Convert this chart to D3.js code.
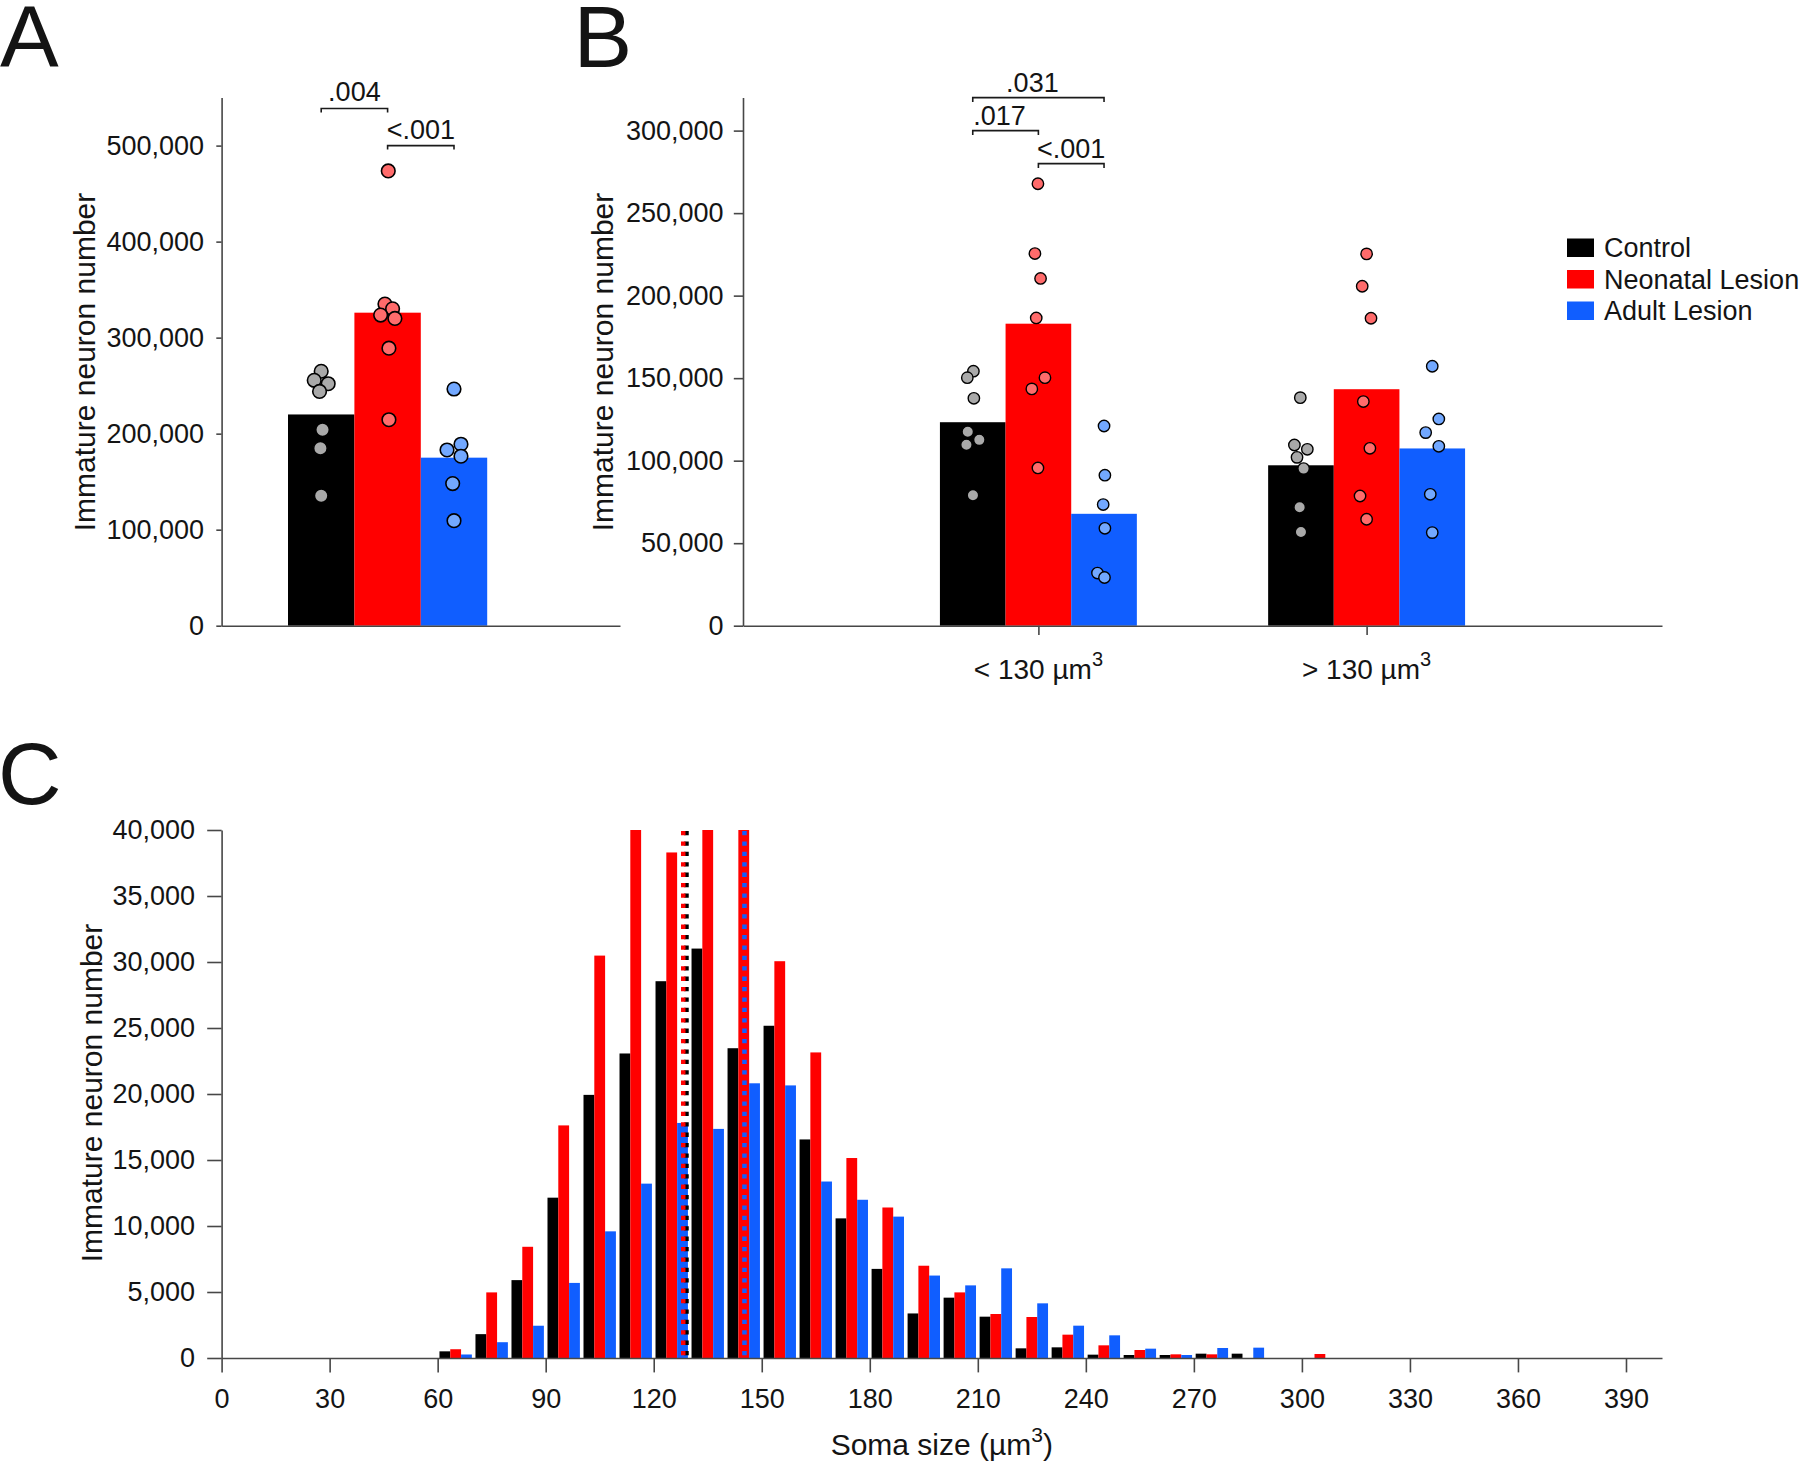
<!DOCTYPE html>
<html><head><meta charset="utf-8">
<script src="https://cdn.jsdelivr.net/npm/d3@7"></script>
<style>
body{margin:0;background:#fff}
svg{display:block}
text{font-family:"Liberation Sans",Arial,Helvetica,sans-serif;fill:#141414}
</style>
</head><body>
<svg id="chart" width="1800" height="1463"></svg>
<script>
// ---------------- DATA ----------------
const groups = ["Control", "Neonatal Lesion", "Adult Lesion"];
const barColors = ["#000000", "#FF0000", "#105EFF"];
const pointColors = ["#A9A9A9", "#FF6B6B", "#72A8FF"];

// Panel A: total immature neurons
const totalMeans = [220000, 326000, 175000];
const totalControl = [265000, 255600, 252000, 244000, 204000, 184700, 135400];
const totalNeonatal = [473600, 335000, 330000, 323500, 320000, 289000, 214500];
const totalAdult = [246500, 189000, 183000, 176500, 148000, 109400];
const totalControlJitter = [0, -0.105, 0.105, -0.025, 0.02, -0.012, 0];
const totalNeonatalJitter = [0.01, -0.04, 0.075, -0.105, 0.11, 0.02, 0.02];
const totalAdultJitter = [0, 0.105, -0.105, 0.105, -0.02, 0];
const totalTicks = [0, 100000, 200000, 300000, 400000, 500000];
const totalSig = [
  {from: 0, to: 1, level: 538700, label: ".004"},
  {from: 1, to: 2, level: 500000, label: "<.001"}
];

// Panel B: by soma size class
const sizeClasses = ["< 130 µm", "> 130 µm"];
const sizeSup = "3";
const smallMeans = [123300, 183000, 67800];
const largeMeans = [97200, 143300, 107400];
const smallControl = [154200, 150300, 137800, 117500, 112600, 109600, 79000];
const smallNeonatal = [267800, 225500, 210400, 186500, 150300, 143500, 95600];
const smallAdult = [121000, 91200, 73400, 59000, 31900, 29200];
const largeControl = [138200, 109500, 106900, 102000, 95200, 71800, 56800];
const largeNeonatal = [225300, 205700, 186300, 135800, 107500, 78600, 64500];
const largeAdult = [157200, 125300, 117000, 108700, 79600, 56400];
const smallControlJitter = [0.01, -0.083, 0.017, -0.076, 0.10, -0.096, 0.003];
const smallNeonatalJitter = [-0.007, -0.053, 0.033, -0.033, 0.10, -0.10, -0.007];
const smallAdultJitter = [0, 0.013, -0.013, 0.013, -0.10, 0.007];
const largeControlJitter = [-0.01, -0.10, 0.097, -0.06, 0.04, -0.02, 0];
const largeNeonatalJitter = [0, -0.067, 0.067, -0.05, 0.05, -0.10, 0];
const largeAdultJitter = [0, 0.10, -0.10, 0.10, -0.03, 0];
const sizeTicks = [0, 50000, 100000, 150000, 200000, 250000, 300000];
const sizeSig = [
  {from: 0, to: 2, level: 320000, label: ".031"},
  {from: 0, to: 1, level: 300000, label: ".017"},
  {from: 1, to: 2, level: 280000, label: "<.001"}
];

// Panel C: soma size histogram (bins of 10 µm³, starting values)
const binStarts = [60, 70, 80, 90, 100, 110, 120, 130, 140, 150, 160, 170, 180, 190, 200, 210, 220, 230, 240, 250, 260, 270, 280, 290, 300];
const histControl = [505, 1807, 5900, 12146, 19934, 23070, 28545, 31017, 23468, 25170, 16558, 10578, 6751, 3375, 4571, 3131, 732, 808, 253, 227, 227, 328, 328, 0, 0];
const histNeonatal = [664, 4970, 8425, 17621, 30485, 41000, 38299, 42000, 40600, 30060, 23150, 15150, 11402, 6990, 4970, 3333, 3106, 1768, 960, 606, 278, 278, 0, 0, 303];
const histAdult = [266, 1196, 2445, 5688, 9595, 13209, 17807, 17356, 20811, 20651, 13369, 11987, 10711, 6246, 5502, 6792, 4141, 2449, 1717, 707, 227, 758, 783, 0, 0];
const refLines = [129.1, 128.2, 145.2]; // Control, Neonatal, Adult
const histXTicks = [0, 30, 60, 90, 120, 150, 180, 210, 240, 270, 300, 330, 360, 390];
const histYTicks = [0, 5000, 10000, 15000, 20000, 25000, 30000, 35000, 40000];

// ---------------- DRAWING ----------------
const svg = d3.select("#chart");
const fmt = d3.format(",");
const AXIS = "#474747";

function styleAxis(g, fs) {
  g.selectAll("path.domain").attr("stroke", AXIS).attr("stroke-width", 1.6);
  g.selectAll(".tick line").attr("stroke", AXIS).attr("stroke-width", 1.6);
  g.selectAll(".tick text").attr("fill", "#141414").style("font-size", fs + "px")
    .style("font-family", '"Liberation Sans",Arial,sans-serif');
}

function yTitle(x, y, fs) {
  svg.append("text").attr("transform", `translate(${x},${y}) rotate(-90)`)
    .attr("text-anchor", "middle").style("font-size", fs + "px")
    .text("Immature neuron number");
}

function panelLetter(t, x, y) {
  svg.append("text").attr("x", x).attr("y", y).style("font-size", "88px").text(t);
}

function drawSig(list, xPos, yScale, tickLen, gap) {
  list.forEach(s => {
    const x1 = xPos(s.from), x2 = xPos(s.to), y = yScale(s.level);
    svg.append("path")
      .attr("d", `M${x1},${y + tickLen}V${y}H${x2}V${y + tickLen}`)
      .attr("fill", "none").attr("stroke", "#1a1a1a").attr("stroke-width", 1.6);
    // labels starting with "." render visually right-heavy; nudge them slightly left
    const nudge = s.label.startsWith(".") && (x2 - x1) > 0 && yScale === yBref ? -6 : 0;
    svg.append("text").attr("x", (x1 + x2) / 2 + nudge).attr("y", y - gap)
      .attr("text-anchor", "middle").style("font-size", "27px").text(s.label);
  });
}

function drawPoints(vals, jit, cx, yScale, fill, r, sw) {
  svg.append("g").selectAll("circle").data(vals).join("circle")
    .attr("cx", (d, j) => cx(jit[j]))
    .attr("cy", d => yScale(d))
    .attr("r", r).attr("fill", fill)
    .attr("stroke", "#000").attr("stroke-width", sw);
}

// ---- Panel A ----
const xA = d3.scaleLinear().domain([0, 6]).range([221.6, 620]);
const yA = d3.scaleLinear().domain([0, 550000]).range([625.7, 97.6]);
const yBref = d3.scaleLinear().domain([0, 320000]).range([625.7, 97.6]);
svg.append("g").selectAll("rect").data(totalMeans).join("rect")
  .attr("x", (d, i) => xA(1 + i)).attr("width", xA(2) - xA(1))
  .attr("y", d => yA(d)).attr("height", d => yA(0) - yA(d))
  .attr("fill", (d, i) => barColors[i]);
[[totalControl, totalControlJitter], [totalNeonatal, totalNeonatalJitter], [totalAdult, totalAdultJitter]]
  .forEach(([vals, jit], i) => drawPoints(vals, jit, j => xA(1.5 + i + j), yA, pointColors[i], 6.8, 1.6));
const gAy = svg.append("g").attr("transform", `translate(${xA(0)},0)`)
  .call(d3.axisLeft(yA).tickValues(totalTicks).tickFormat(fmt).tickSize(5.3).tickSizeOuter(0).tickPadding(12.3));
styleAxis(gAy, 27);
const gAx = svg.append("g").attr("transform", `translate(0,${yA(0)})`)
  .call(d3.axisBottom(xA).tickValues([]).tickSizeOuter(0));
styleAxis(gAx, 27);
drawSig(totalSig, i => xA(1.5 + i), yA, 4, 7);
yTitle(94.5, 362, 30);
panelLetter("A", 0, 66.5);

// ---- Panel B ----
const xB = d3.scaleLinear().domain([0, 14]).range([743, 1662]);
const yB = yBref;
[smallMeans, largeMeans].forEach((means, k) => {
  svg.append("g").selectAll("rect").data(means).join("rect")
    .attr("x", (d, i) => xB(3 + 5 * k + i)).attr("width", xB(1) - xB(0))
    .attr("y", d => yB(d)).attr("height", d => yB(0) - yB(d))
    .attr("fill", (d, i) => barColors[i]);
});
[
  [[smallControl, smallControlJitter], [smallNeonatal, smallNeonatalJitter], [smallAdult, smallAdultJitter]],
  [[largeControl, largeControlJitter], [largeNeonatal, largeNeonatalJitter], [largeAdult, largeAdultJitter]]
].forEach((set, k) => set.forEach(([vals, jit], i) =>
  drawPoints(vals, jit, j => xB(3.5 + 5 * k + i + j), yB, pointColors[i], 5.7, 1.4)));
const gBy = svg.append("g").attr("transform", `translate(${xB(0)},0)`)
  .call(d3.axisLeft(yB).tickValues(sizeTicks).tickFormat(fmt).tickSize(9.2).tickSizeOuter(0).tickPadding(10.3));
styleAxis(gBy, 27);
const classPos = sizeClasses.map((c, k) => 4.5 + 5 * k);
const gBx = svg.append("g").attr("transform", `translate(0,${yB(0)})`)
  .call(d3.axisBottom(xB).tickValues(classPos).tickFormat(() => "").tickSize(9.2).tickSizeOuter(0));
styleAxis(gBx, 27);
sizeClasses.forEach((c, k) => {
  const t = svg.append("text").attr("x", xB(classPos[k])).attr("y", 679)
    .attr("text-anchor", "middle").style("font-size", "28px");
  t.append("tspan").text(c);
  t.append("tspan").attr("dy", -13).style("font-size", "20px").text(sizeSup);
});
drawSig(sizeSig, i => xB(3.5 + i), yB, 4.5, 6);
yTitle(613, 362, 30);
panelLetter("B", 573.6, 67);

// Legend
const leg = svg.append("g");
groups.forEach((g, i) => {
  const base = 257 + i * 31.5;
  leg.append("rect").attr("x", 1567).attr("y", base - 18.5).attr("width", 27).attr("height", 18.5).attr("fill", barColors[i]);
  leg.append("text").attr("x", 1604).attr("y", base).style("font-size", "27px").text(g);
});

// ---- Panel C ----
const xC = d3.scaleLinear().domain([0, 400]).range([221.6, 1662]);
const yC = d3.scaleLinear().domain([0, 40000]).range([1358, 830]);
svg.append("clipPath").attr("id", "clipC").append("rect")
  .attr("x", xC(0)).attr("y", yC(40000)).attr("width", xC(400) - xC(0)).attr("height", yC(0) - yC(40000));
const plotC = svg.append("g").attr("clip-path", "url(#clipC)");
[histControl, histNeonatal, histAdult].forEach((series, i) => {
  plotC.append("g").selectAll("rect").data(series).join("rect")
    .attr("x", (d, j) => xC(binStarts[j] + 0.5 + 3 * i))
    .attr("width", xC(3) - xC(0))
    .attr("y", d => yC(d)).attr("height", d => yC(0) - yC(d))
    .attr("fill", barColors[i]);
});
refLines.forEach((v, i) => {
  plotC.append("line").attr("x1", xC(v)).attr("x2", xC(v))
    .attr("y1", yC(40000) + 1).attr("y2", yC(0))
    .attr("stroke", barColors[i]).attr("stroke-width", 4.5)
    .attr("stroke-dasharray", "4.3 6.1");
});
const gCy = svg.append("g").attr("transform", `translate(${xC(0)},0)`)
  .call(d3.axisLeft(yC).tickValues(histYTicks).tickFormat(fmt).tickSize(14.4).tickSizeOuter(0).tickPadding(12.2));
styleAxis(gCy, 27);
const gCx = svg.append("g").attr("transform", `translate(0,${yC(0)})`)
  .call(d3.axisBottom(xC).tickValues(histXTicks).tickSize(14.4).tickSizeOuter(0).tickPadding(16.4));
styleAxis(gCx, 27);
const xt = svg.append("text").attr("x", xC(200)).attr("y", 1455)
  .attr("text-anchor", "middle").style("font-size", "30px");
xt.append("tspan").text("Soma size (µm");
xt.append("tspan").attr("dy", -13).style("font-size", "21px").text("3");
xt.append("tspan").attr("dy", 13).text(")");
yTitle(102, 1093, 30);
panelLetter("C", -2, 804);
</script>
</body></html>
